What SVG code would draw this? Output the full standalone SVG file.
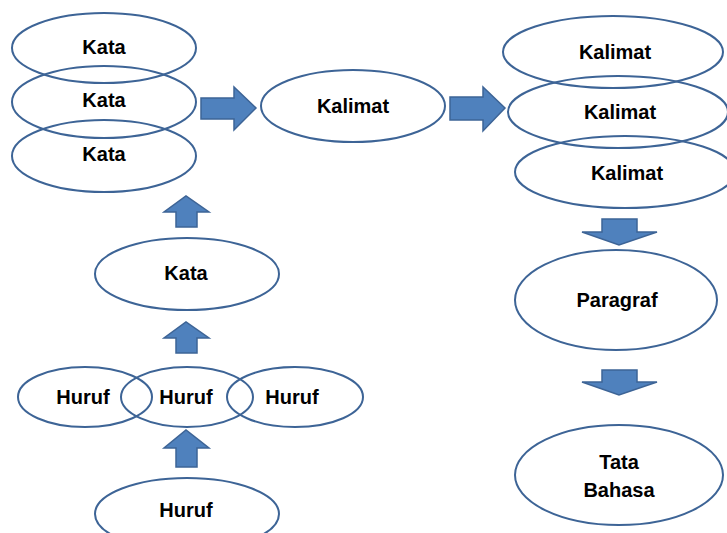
<svg xmlns="http://www.w3.org/2000/svg" width="727" height="533" viewBox="0 0 727 533">
  <style>
    .node ellipse { fill: none; stroke: #3d6496; stroke-width: 2; }
    .node text { font-family: "Liberation Sans", Arial, sans-serif; font-weight: bold; font-size: 20px; fill: #000; text-anchor: middle; }
    .arrow { fill: #4f81bd; stroke: #3d6496; stroke-width: 1.5; stroke-linejoin: miter; }
  </style>
  <rect width="727" height="533" fill="#fff"/>

  <!-- connectors: block arrows -->
  <g id="connectors">
    <!-- right arrows -->
    <polygon class="arrow" points="201,98 234,98 234,87 256,108 234,130 234,119 201,119"/>
    <polygon class="arrow" points="450,97 483,97 483,87 505,108 483,131 483,120 450,120"/>
    <!-- down arrows -->
    <polygon class="arrow" points="602,219 637,219 637,232 657,232 619,245 582,232 602,232"/>
    <polygon class="arrow" points="602,370 637,370 637,382 657,382 619,395 582,382 602,382"/>
    <!-- up arrows -->
    <polygon class="arrow" points="176,227 197,227 197,212 209,212 186,196 164,212 176,212"/>
    <polygon class="arrow" points="176,353 197,353 197,338 209,338 186,322 164,338 176,338"/>
    <polygon class="arrow" points="176,467 197,467 197,448 209,448 186,430 164,448 176,448"/>
  </g>

  <!-- word stack -->
  <g id="kata1" class="node"><ellipse cx="104" cy="48" rx="92" ry="35"/><text x="104" y="54">Kata</text></g>
  <g id="kata2" class="node"><ellipse cx="104" cy="102" rx="92" ry="36"/><text x="104" y="107">Kata</text></g>
  <g id="kata3" class="node"><ellipse cx="104" cy="156" rx="92" ry="36"/><text x="104" y="161">Kata</text></g>

  <!-- sentence -->
  <g id="kalimat-main" class="node"><ellipse cx="353" cy="106" rx="92" ry="36"/><text x="353" y="113">Kalimat</text></g>

  <!-- sentence stack -->
  <g id="kalimat1" class="node"><ellipse cx="613" cy="52" rx="110" ry="36"/><text x="615" y="59">Kalimat</text></g>
  <g id="kalimat2" class="node"><ellipse cx="618" cy="112" rx="110" ry="36"/><text x="620" y="119">Kalimat</text></g>
  <g id="kalimat3" class="node"><ellipse cx="625" cy="172" rx="110" ry="36"/><text x="627" y="180">Kalimat</text></g>

  <!-- paragraph and grammar -->
  <g id="paragraf" class="node"><ellipse cx="616" cy="300" rx="101" ry="50"/><text x="617" y="307">Paragraf</text></g>
  <g id="tata-bahasa" class="node"><ellipse cx="619" cy="475" rx="104" ry="50"/><text x="619" y="469">Tata</text><text x="619" y="497">Bahasa</text></g>

  <!-- word -->
  <g id="kata" class="node"><ellipse cx="187" cy="274" rx="92" ry="36"/><text x="186" y="280">Kata</text></g>

  <!-- letters -->
  <g id="huruf-left" class="node"><ellipse cx="85" cy="397" rx="67" ry="30"/><text x="83" y="404">Huruf</text></g>
  <g id="huruf-mid" class="node"><ellipse cx="187" cy="397" rx="66" ry="30"/><text x="186" y="404">Huruf</text></g>
  <g id="huruf-right" class="node"><ellipse cx="295" cy="397" rx="68" ry="30"/><text x="292" y="404">Huruf</text></g>
  <g id="huruf-bottom" class="node"><ellipse cx="187" cy="514" rx="92" ry="36"/><text x="186" y="517">Huruf</text></g>
</svg>
